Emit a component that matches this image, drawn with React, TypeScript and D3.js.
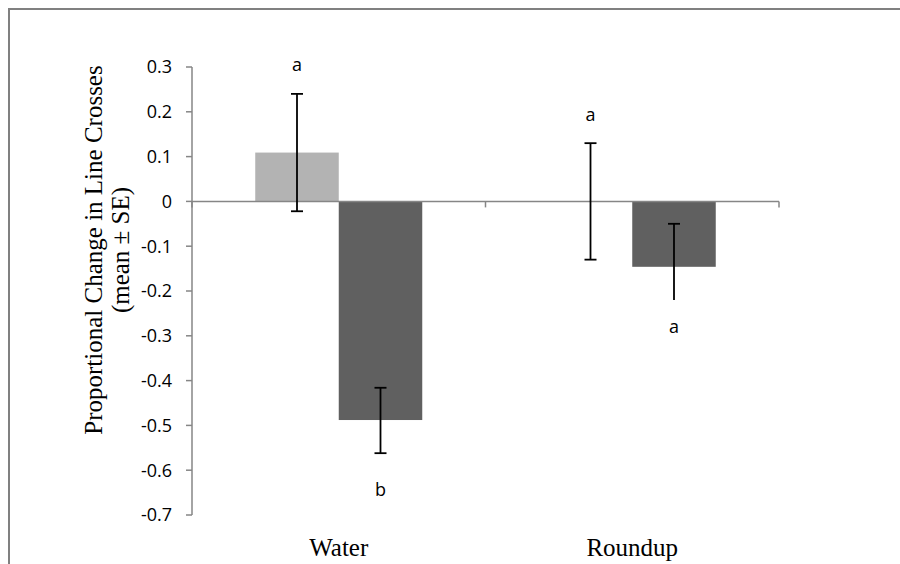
import React, { useEffect, useRef } from 'react';
import * as d3 from 'd3';

// chart data
const categories = ['Water', 'Roundup'];
const series = ['light', 'dark'];
const means = [
  [0.109, -0.488],
  [0.0, -0.146],
];
const errUp = [
  [0.131, 0.072],
  [0.13, 0.096],
];
const errDown = [
  [0.131, 0.074],
  [0.13, 0.074],
];
const lowerCap = [
  [true, true],
  [true, false],
];
const letters = [
  ['a', 'b'],
  ['a', 'a'],
];
const letterAt = [
  [0.305, -0.643],
  [0.194, -0.279],
];
const yTicks = [0.3, 0.2, 0.1, 0, -0.1, -0.2, -0.3, -0.4, -0.5, -0.6, -0.7];
const yTickLabels = ['0.3', '0.2', '0.1', '0', '-0.1', '-0.2', '-0.3', '-0.4', '-0.5', '-0.6', '-0.7'];
const barColors = ['#b3b3b3', '#606060'];

const W = 900;
const H = 564;

const App = () => {
  const svgRef = useRef<SVGSVGElement>(null);

  useEffect(() => {
    const svg = d3.select(svgRef.current);
    svg.selectAll('*').remove();

    const sans = '"Open Sans", "Liberation Sans", sans-serif';
    const serif = '"Liberation Serif", "Times New Roman", serif';

    // outer frame (runs off the right and bottom edges)
    svg.append('rect')
      .attr('x', 9).attr('y', 9)
      .attr('width', W + 20).attr('height', H + 20)
      .attr('fill', 'white')
      .attr('stroke', '#808080')
      .attr('stroke-width', 2);

    const y = d3.scaleLinear().domain([-0.7, 0.3]).range([515, 67]);
    const x = d3.scaleBand().domain(categories).range([192, 779]).paddingInner(0).paddingOuter(0);
    const xs = d3.scaleBand().domain(series).range([0, x.bandwidth()]).paddingInner(0).paddingOuter(0.7575);

    // bars
    const g = svg.append('g');
    categories.forEach((c, i) => {
      series.forEach((s, j) => {
        const v = means[i][j];
        g.append('rect')
          .attr('x', x(c)! + xs(s)!)
          .attr('y', y(Math.max(0, v)))
          .attr('width', xs.bandwidth())
          .attr('height', Math.abs(y(v) - y(0)))
          .attr('fill', barColors[j]);
      });
    });

    // y axis
    const axisColor = '#868686';
    const yAxis = svg.append('g');
    yAxis.append('line')
      .attr('x1', 192).attr('x2', 192)
      .attr('y1', y(0.3)).attr('y2', y(-0.7))
      .attr('stroke', axisColor).attr('stroke-width', 1.5);
    yTicks.forEach((t, i) => {
      yAxis.append('line')
        .attr('x1', 186).attr('x2', 192)
        .attr('y1', y(t)).attr('y2', y(t))
        .attr('stroke', axisColor).attr('stroke-width', 1.5);
      yAxis.append('text')
        .attr('x', 172)
        .attr('y', y(t))
        .attr('dy', '0.35em')
        .attr('text-anchor', 'end')
        .attr('font-family', sans)
        .attr('font-size', 18)
        .attr('fill', '#000')
        .text(yTickLabels[i]);
    });

    // x axis along zero
    const xAxis = svg.append('g');
    xAxis.append('line')
      .attr('x1', 192).attr('x2', 779)
      .attr('y1', y(0)).attr('y2', y(0))
      .attr('stroke', axisColor).attr('stroke-width', 1.5);
    const bounds = [...categories.map(c => x(c)!), x.range()[1]];
    bounds.forEach(b => {
      xAxis.append('line')
        .attr('x1', b).attr('x2', b)
        .attr('y1', y(0)).attr('y2', y(0) + 6)
        .attr('stroke', axisColor).attr('stroke-width', 1.5);
    });

    // category labels at the bottom
    categories.forEach(c => {
      svg.append('text')
        .attr('x', x(c)! + x.bandwidth() / 2)
        .attr('y', 556)
        .attr('text-anchor', 'middle')
        .attr('font-family', serif)
        .attr('font-size', 25)
        .attr('fill', '#000')
        .text(c);
    });

    // error bars
    const eb = svg.append('g').attr('stroke', '#000').attr('stroke-width', 1.8);
    categories.forEach((c, i) => {
      series.forEach((s, j) => {
        const cx = x(c)! + xs(s)! + xs.bandwidth() / 2;
        const v = means[i][j];
        const top = y(v + errUp[i][j]);
        const bot = y(v - errDown[i][j]);
        eb.append('line').attr('x1', cx).attr('x2', cx).attr('y1', top).attr('y2', bot);
        eb.append('line').attr('x1', cx - 6).attr('x2', cx + 6).attr('y1', top).attr('y2', top);
        if (lowerCap[i][j]) {
          eb.append('line').attr('x1', cx - 6).attr('x2', cx + 6).attr('y1', bot).attr('y2', bot);
        }
        svg.append('text')
          .attr('x', cx)
          .attr('y', y(letterAt[i][j]))
          .attr('dy', '0.35em')
          .attr('text-anchor', 'middle')
          .attr('font-family', sans)
          .attr('font-size', 18)
          .attr('fill', '#000')
          .text(letters[i][j]);
      });
    });

    // y axis title
    const title = svg.append('text')
      .attr('transform', `translate(102, 250) rotate(-90)`)
      .attr('text-anchor', 'middle')
      .attr('font-family', serif)
      .attr('font-size', 25)
      .attr('fill', '#000');
    title.append('tspan').attr('x', 0).attr('dy', 0).text('Proportional Change in Line Crosses');
    title.append('tspan').attr('x', 0).attr('dy', 27).text('(mean \u00B1 SE)');
  }, []);

  return (
    <svg
      ref={svgRef}
      width={W}
      height={H}
      style={{ position: 'absolute', left: 0, top: 0, background: 'white' }}
    />
  );
};

export default App;
